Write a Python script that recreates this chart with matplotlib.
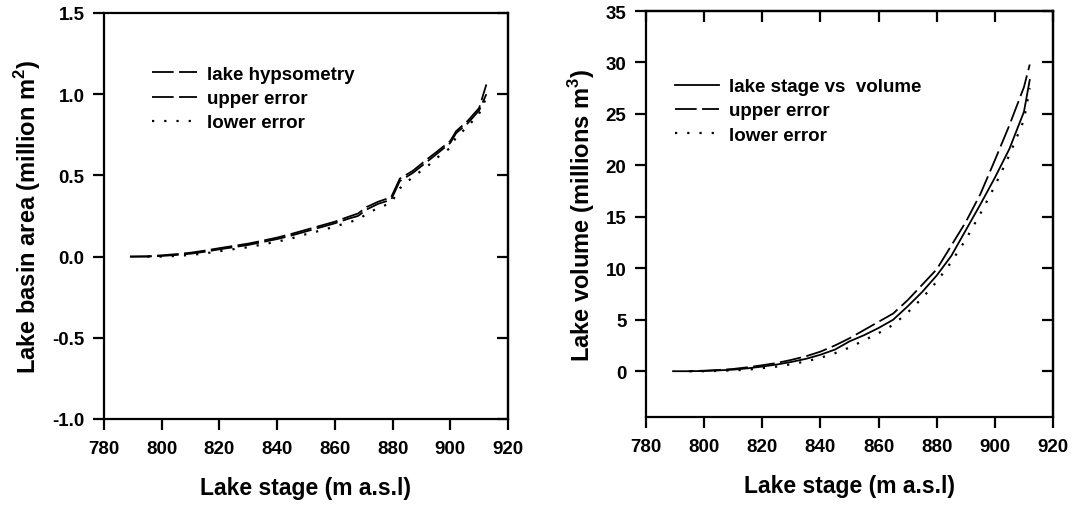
import matplotlib
matplotlib.use("Agg")
from matplotlib import pyplot as plt

plt.rcParams["font.family"] = ["Liberation Sans", "DejaVu Sans"]
plt.rcParams["font.weight"] = "bold"
plt.rcParams["axes.unicode_minus"] = False
plt.rcParams["mathtext.fontset"] = "custom"
plt.rcParams["mathtext.rm"] = "Liberation Sans:bold"
plt.rcParams["mathtext.bf"] = "Liberation Sans:bold"

# left panel: stage vs basin area (million m2)
stage_area = [789, 795, 800, 805, 810, 815, 820, 825, 830, 835, 840, 845, 850,
              855, 860, 865, 868, 871, 875, 879.5, 882.5, 887, 892, 895.5, 900,
              902, 906, 910, 912.5]
area = [0.0, 0.0, 0.004, 0.010, 0.018, 0.030, 0.045, 0.058, 0.072, 0.090,
        0.108, 0.130, 0.155, 0.180, 0.205, 0.235, 0.250, 0.290, 0.325, 0.350,
        0.465, 0.515, 0.585, 0.635, 0.700, 0.760, 0.820, 0.900, 1.000]
area_upper = [0.0, 0.002, 0.008, 0.015, 0.024, 0.037, 0.052, 0.066, 0.080,
              0.098, 0.117, 0.140, 0.165, 0.190, 0.215, 0.247, 0.265, 0.305,
              0.338, 0.365, 0.480, 0.528, 0.600, 0.648, 0.712, 0.772, 0.835,
              0.915, 1.060]
area_lower = [None, 0.0, 0.0, 0.004, 0.010, 0.020, 0.033, 0.046, 0.058, 0.075,
              0.092, 0.112, 0.138, 0.160, 0.185, 0.212, 0.228, 0.262, 0.300,
              0.330, 0.420, 0.490, 0.555, 0.610, 0.670, 0.735, 0.800, 0.880,
              0.980]

# right panel: stage vs volume (millions m3)
stage_vol = [789, 795, 800, 805, 810, 815, 820, 825, 830, 835, 840, 845, 850,
             855, 860, 865, 870, 875, 880, 885, 890, 895, 900, 905, 910, 912]
volume = [None, 0.0, 0.02, 0.08, 0.15, 0.28, 0.45, 0.65, 0.90, 1.20, 1.60, 2.10,
          2.90, 3.50, 4.20, 5.00, 6.30, 7.70, 9.30, 11.2, 13.7, 16.2, 18.8,
          21.6, 25.2, 28.3]
vol_upper = [0.0, 0.0, 0.05, 0.12, 0.22, 0.38, 0.58, 0.80, 1.10, 1.45, 1.90,
             2.50, 3.20, 4.00, 4.80, 5.60, 6.90, 8.40, 9.90, 12.2, 14.5, 17.2,
             20.5, 23.9, 27.6, 29.8]
vol_lower = [None, 0.0, 0.0, 0.03, 0.08, 0.15, 0.30, 0.45, 0.68, 0.95, 1.30,
             1.75, 2.30, 3.00, 3.70, 4.50, 5.70, 7.10, 8.70, 10.6, 12.8, 15.3,
             18.0, 21.0, 24.4, 27.5]

x_ticks = [780, 800, 820, 840, 860, 880, 900, 920]
area_ticks = [-1.0, -0.5, 0.0, 0.5, 1.0, 1.5]
vol_ticks = [0, 5, 10, 15, 20, 25, 30, 35]

long_dash = (0, (12, 3))
dots = (0, (1, 4.5))
LW = 1.6


def clean(xs, ys):
    pts = [(x, y) for x, y in zip(xs, ys) if y is not None]
    return [p[0] for p in pts], [p[1] for p in pts]


def style_axes(ax, yticks, top_ticks):
    for s in ax.spines.values():
        s.set_linewidth(LW)
    ax.tick_params(axis="both", length=8, width=LW, labelsize=13.5,
                   direction="out", top=False, right=False)
    ax.tick_params(axis="x", pad=7)
    ax.tick_params(axis="y", pad=6)
    ax.set_xlim(780, 920)
    ax.set_xticks(x_ticks)
    ax.set_yticks(yticks)
    # inward ticks on the right (and top) side
    sy = ax.secondary_yaxis("right")
    sy.set_yticks(yticks)
    sy.tick_params(direction="in", length=8, width=LW, labelright=False)
    sy.spines["right"].set_linewidth(LW)
    if top_ticks:
        sx = ax.secondary_xaxis("top")
        sx.set_xticks(x_ticks)
        sx.tick_params(direction="in", length=8, width=LW, labeltop=False)
        sx.spines["top"].set_linewidth(LW)
    ax.set_xlabel("Lake stage (m a.s.l)", fontsize=16.5, fontweight="bold",
                  labelpad=14)


fig = plt.figure(figsize=(10.72, 5.06), dpi=100)
ax1 = fig.add_axes([104 / 1072, 86 / 506, 404 / 1072, 406 / 506])
ax2 = fig.add_axes([646 / 1072, 88 / 506, 407 / 1072, 406 / 506])

leg_kw = dict(loc="upper left", frameon=False, fontsize=13.5,
              handlelength=2.35, handletextpad=0.55, labelspacing=0.38,
              borderaxespad=0, borderpad=0)

ax1.plot(stage_area, area, color="black", lw=1.3, ls=long_dash,
         label="lake hypsometry")
ax1.plot(stage_area, area_upper, color="black", lw=1.3, ls=long_dash,
         label="upper error")
ax1.plot(*clean(stage_area, area_lower), color="black", lw=1.6,
         ls=dots, label="lower error")
ax1.set_ylim(-1.0, 1.5)
style_axes(ax1, area_ticks, top_ticks=False)
ax1.set_yticklabels([f"{v:.1f}" for v in area_ticks])
ax1.set_ylabel(r"Lake basin area (million m$^{2}$)", fontsize=17,
               fontweight="bold", labelpad=7)
ax1.legend(bbox_to_anchor=(0.12, 0.87), **leg_kw)

ax2.plot(*clean(stage_vol, volume), color="black", lw=1.3, ls="-",
         label="lake stage vs  volume")
ax2.plot(stage_vol, vol_upper, color="black", lw=1.3, ls=long_dash,
         label="upper error")
ax2.plot(*clean(stage_vol, vol_lower), color="black", lw=1.6, ls=dots,
         label="lower error")
ax2.set_ylim(-4.45, 35)
style_axes(ax2, vol_ticks, top_ticks=True)
ax2.set_ylabel(r"Lake volume (millions m$^{3}$)", fontsize=17,
               fontweight="bold", labelpad=6)
ax2.legend(bbox_to_anchor=(0.071, 0.835), **leg_kw)

fig.savefig("out.png", dpi=100)
